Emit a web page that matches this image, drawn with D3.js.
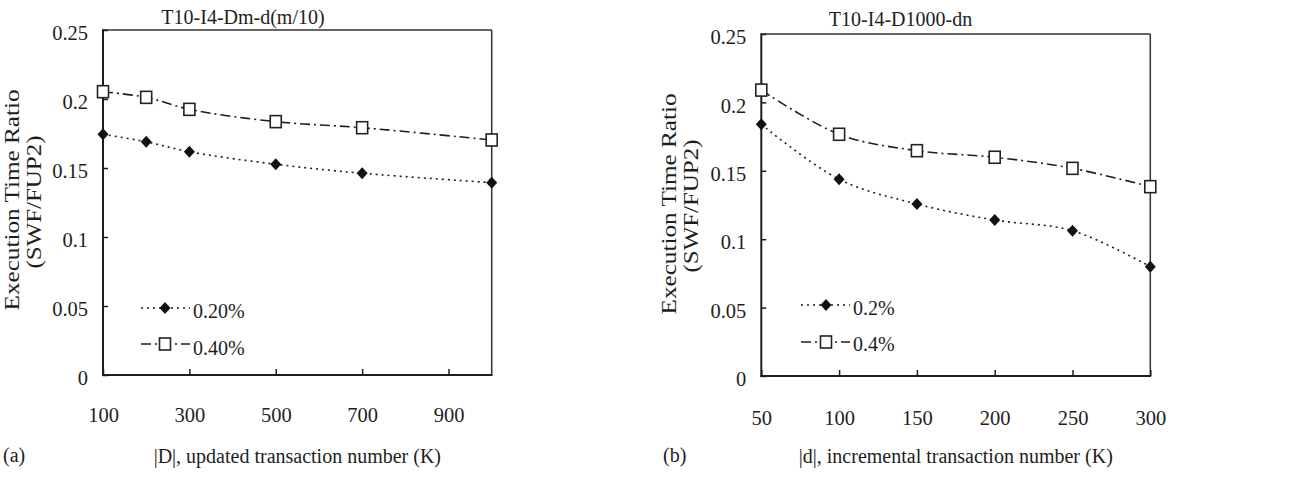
<!DOCTYPE html>
<html><head><meta charset="utf-8">
<script src="https://cdn.jsdelivr.net/npm/d3@7"></script>
<style>
body{margin:0;background:#fff}
text{font-family:"Liberation Serif","Times New Roman",serif;fill:#1e1e1e}
</style>
</head><body><svg id="c" width="1296" height="477"></svg>
<script>
// ---- data ----
const xA = [100, 200, 300, 500, 700, 1000];
const a020 = [0.1744, 0.1690, 0.1618, 0.1527, 0.1462, 0.1394];
const a040 = [0.2053, 0.2012, 0.1925, 0.1836, 0.1792, 0.1703];
const xATicks = [100, 300, 500, 700, 900];

const xB = [50, 100, 150, 200, 250, 300];
const b02 = [0.1840, 0.1438, 0.1257, 0.1140, 0.1062, 0.0799];
const b04 = [0.2090, 0.1767, 0.1647, 0.1599, 0.1518, 0.1384];
const xBTicks = [50, 100, 150, 200, 250, 300];

const yTicks = [0, 0.05, 0.1, 0.15, 0.2, 0.25];
const yTickLabels = ["0", "0.05", "0.1", "0.15", "0.2", "0.25"];

const panels = [
  {
    tag: "(a)", title: "T10-I4-Dm-d(m/10)",
    xlabel: "|D|, updated transaction number (K)",
    legend: ["0.20%", "0.40%"],
    xs: xA, s1: a020, s2: a040, xTicks: xATicks, xDomain: [100, 1000],
    L: 103, R: 491.7, T: 30, B: 375, xPad: 32.5,
    titleX: 243, titleY: 24, ylab1X: 19, ylab2X: 41, ylabY: 200,
    tagX: 3, tagY: 462, xlabY: 463,
    leg: {x0: 141, x1: 190, mx: 165, y1: 308, y2: 344, tx: 193, ty1: 318, ty2: 355}
  },
  {
    tag: "(b)", title: "T10-I4-D1000-dn",
    xlabel: "|d|, incremental transaction number (K)",
    legend: ["0.2%", "0.4%"],
    xs: xB, s1: b02, s2: b04, xTicks: xBTicks, xDomain: [50, 300],
    L: 761.3, R: 1150.3, T: 34, B: 376, xPad: 34,
    titleX: 900.5, titleY: 26, ylab1X: 676, ylab2X: 698, ylabY: 204,
    tagX: 663, tagY: 462, xlabY: 463,
    leg: {x0: 801, x1: 850, mx: 826, y1: 305, y2: 342, tx: 853, ty1: 315, ty2: 351}
  }
];

const svg = d3.select("#c");
const ink = "#1e1e1e";
const dot = "2,4", dashDot = "10,4,2,4";

function diamond(g, x, y) {
  g.append("path").attr("d", `M${x},${y-6}L${x+5.5},${y}L${x},${y+6}L${x-5.5},${y}Z`)
    .attr("fill", "#111");
}
function square(g, x, y) {
  g.append("rect").attr("x", x-5.5).attr("y", y-6).attr("width", 11).attr("height", 12)
    .attr("fill", "#fff").attr("stroke", "#222").attr("stroke-width", 1.6);
}

panels.forEach(p => {
  const g = svg.append("g");
  const x = d3.scaleLinear().domain(p.xDomain).range([p.L, p.R]);
  const y = d3.scaleLinear().domain([0, 0.25]).range([p.B, p.T]);

  // frame top/right
  g.append("line").attr("x1", p.L).attr("x2", p.R).attr("y1", p.T).attr("y2", p.T)
    .attr("stroke", "#333").attr("stroke-width", 1.5);
  g.append("line").attr("x1", p.R).attr("x2", p.R).attr("y1", p.T).attr("y2", p.B)
    .attr("stroke", "#333").attr("stroke-width", 1.5);

  // y axis
  const ya = g.append("g").attr("transform", `translate(${p.L},0)`)
    .call(d3.axisLeft(y).tickValues(yTicks).tickSize(-5).tickSizeOuter(0).tickPadding(15)
      .tickFormat((d, i) => yTickLabels[i]));
  ya.select(".domain").remove();
  ya.selectAll(".tick line").attr("stroke", ink).attr("stroke-width", 1.5);
  ya.selectAll(".tick text").attr("font-size", 20.5).attr("dy", "0.47em")
    .attr("font-family", "Liberation Serif").attr("fill", ink);

  // x axis
  const xa = g.append("g").attr("transform", `translate(0,${p.B})`)
    .call(d3.axisBottom(x).tickValues(p.xTicks).tickSize(-6).tickSizeOuter(0).tickPadding(p.xPad));
  xa.select(".domain").remove();
  xa.selectAll(".tick line").attr("stroke", ink).attr("stroke-width", 1.5);
  xa.selectAll(".tick text").attr("font-size", 20.5)
    .attr("font-family", "Liberation Serif").attr("fill", ink);

  // left / bottom frame lines (thicker)
  g.append("line").attr("x1", p.L).attr("x2", p.L).attr("y1", p.T - 0.75).attr("y2", p.B + 1)
    .attr("stroke", ink).attr("stroke-width", 2);
  g.append("line").attr("x1", p.L - 1).attr("x2", p.R + 0.75).attr("y1", p.B).attr("y2", p.B)
    .attr("stroke", ink).attr("stroke-width", 2);

  // series
  const line = d3.line().x(d => x(d[0])).y(d => y(d[1])).curve(d3.curveCatmullRom.alpha(0.5));
  const d1 = p.xs.map((v, i) => [v, p.s1[i]]);
  const d2 = p.xs.map((v, i) => [v, p.s2[i]]);
  g.append("path").attr("d", line(d1)).attr("fill", "none").attr("stroke", ink)
    .attr("stroke-width", 1.6).attr("stroke-dasharray", dot);
  g.append("path").attr("d", line(d2)).attr("fill", "none").attr("stroke", ink)
    .attr("stroke-width", 1.6).attr("stroke-dasharray", dashDot);
  d1.forEach(d => diamond(g, x(d[0]), y(d[1])));
  d2.forEach(d => square(g, x(d[0]), y(d[1])));

  // legend
  const lg = p.leg;
  g.append("line").attr("x1", lg.x0).attr("x2", lg.x1).attr("y1", lg.y1).attr("y2", lg.y1)
    .attr("stroke", ink).attr("stroke-width", 1.6).attr("stroke-dasharray", dot);
  g.append("line").attr("x1", lg.x0).attr("x2", lg.x1).attr("y1", lg.y2).attr("y2", lg.y2)
    .attr("stroke", ink).attr("stroke-width", 1.6).attr("stroke-dasharray", dashDot);
  diamond(g, lg.mx, lg.y1);
  square(g, lg.mx, lg.y2);
  g.append("text").attr("x", lg.tx).attr("y", lg.ty1).attr("font-size", 20).text(p.legend[0]);
  g.append("text").attr("x", lg.tx).attr("y", lg.ty2).attr("font-size", 20).text(p.legend[1]);

  // titles & labels
  g.append("text").attr("x", p.titleX).attr("y", p.titleY).attr("text-anchor", "middle")
    .attr("font-size", 20).text(p.title);
  g.append("text").attr("x", (p.L + p.R) / 2).attr("y", p.xlabY).attr("text-anchor", "middle")
    .attr("font-size", 20).text(p.xlabel);
  g.append("text").attr("x", p.tagX).attr("y", p.tagY).attr("font-size", 20).text(p.tag);
  g.append("text").attr("transform", `translate(${p.ylab1X},${p.ylabY}) rotate(-90)`)
    .attr("text-anchor", "middle").attr("font-size", 21)
    .attr("textLength", 221).attr("lengthAdjust", "spacingAndGlyphs")
    .text("Execution Time Ratio");
  g.append("text").attr("transform", `translate(${p.ylab2X},${p.ylabY + 2}) rotate(-90)`)
    .attr("text-anchor", "middle").attr("font-size", 21)
    .attr("textLength", 133).attr("lengthAdjust", "spacingAndGlyphs")
    .text("(SWF/FUP2)");
});
</script>
</body></html>
